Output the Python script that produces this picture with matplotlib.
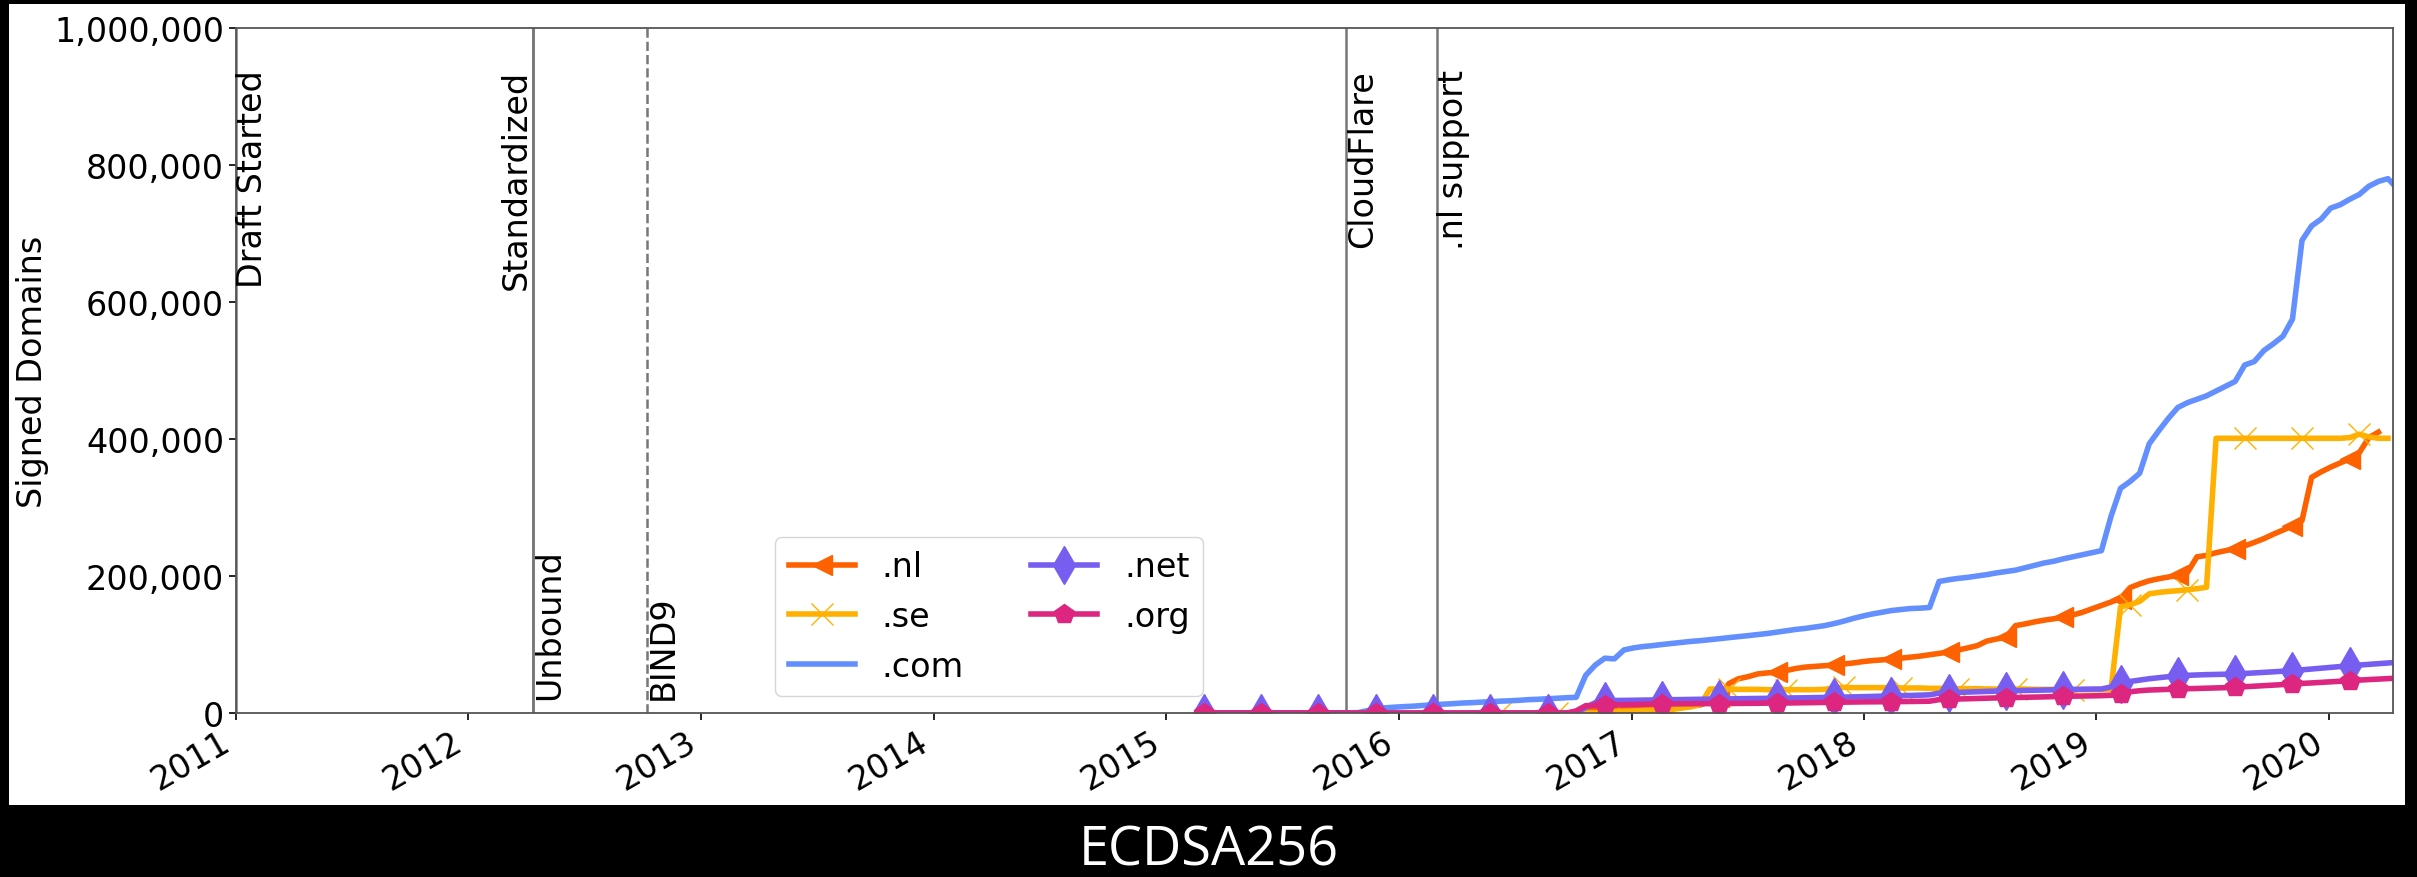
import matplotlib
matplotlib.use("Agg")
import matplotlib.pyplot as plt
import matplotlib.dates as mdates
import numpy as np
import pandas as pd
from matplotlib.ticker import FuncFormatter
from matplotlib.patches import Rectangle

nan = np.nan

# ---------------- data ----------------
# sample dates: every 15 days starting 2015-03-01 (126 samples)
dates = pd.date_range("2015-03-01", periods=126, freq="15D")

com_vals = [0] * 17 + [
    3000, 6000, 7500, 8500, 9300, 10000, 11000, 12000, 12800, 13500,
    14500, 15000, 15800, 16500, 17200, 17800, 18500, 19500, 20000, 20800,
    21500, 22300, 22900, 55000, 70000, 80000, 79000, 92000, 95000, 97000,
    98300, 100000, 101500, 103000, 104500, 105600, 107000, 108500, 110000, 111500,
    112900, 114500, 116000, 118000, 120000, 122000, 123500, 125500, 127500, 130500,
    134000, 138000, 141500, 144500, 147000, 149500, 151000, 152500, 153000, 154000,
    192000, 194500, 196500, 198000, 200000, 202000, 204500, 206500, 208500, 212000,
    215500, 219000, 221500, 225000, 228000, 231000, 234000, 237000, 287000, 328000,
    338000, 350000, 393000, 412000, 430000, 446000, 453000, 458000, 463000, 470000,
    477000, 484000, 508000, 513000, 529000, 539000, 550000, 575000, 690000, 711000,
    721000, 737000, 742000, 750000, 757000, 769000, 776000, 780000, 765000]

se_vals = [nan] * 28 + [0] * 14 + [
    1500, 2000, 2500, 3000, 3500, 4000, 4500, 5500, 7000, 9000,
    12000, 35000, 35000, 35000, 34500, 34500, 34500, 34000, 34000, 34000,
    34000, 34000, 34000, 34500, 36500, 37500, 37000, 37000, 37000, 37000,
    37000, 36500, 36500, 36500, 36000, 36000, 36000, 35500, 35500, 35500,
    35000, 35000, 35000, 35000, 35000, 34500, 34500, 34500, 34500, 34000,
    34000, 34000, 34000, 34000, 155000, 158000, 163000, 174000, 176000, 177500,
    178500, 180000, 181500, 183500, 401000, 401000, 401000, 401000, 401000, 401000,
    401000, 401000, 401000, 401000, 401000, 401000, 401000, 401000, 402000, 407000,
    403000, 401000, 401000] + [nan]

nl_vals = [nan] * 39 + [
    2000, 3000, 4000, 5000, 5500, 6000, 7000, 7500, 8300, 9000,
    9500, 10000, 11000, 11700, 17000, 23000, 43000, 50000, 53000, 57000,
    58500, 59400, 62000, 65000, 67000, 68000, 69000, 70100, 71500, 73000,
    75000, 76500, 77500, 78800, 80000, 81500, 83000, 85000, 87000, 89000,
    92000, 95000, 98300, 105000, 108000, 110500, 127500, 130000, 133000, 135500,
    137500, 139700, 143000, 147000, 152000, 157000, 162000, 167000, 183000, 188500,
    193000, 196000, 198500, 201000, 205000, 228000, 230000, 234000, 237000, 240000,
    244000, 249000, 254500, 261000, 267000, 273000, 281000, 344000, 352000, 359000,
    365000, 371000, 380000, 402000, 410000] + [nan, nan]

net_vals = [0] * 39 + [
    500, 8000, 15000, 18000, 18200, 18400, 18600, 18800, 19000, 19200,
    19400, 19600, 19800, 20000, 20200, 20400, 20600, 20800, 21000, 21200,
    21400, 21600, 21800, 22000, 22200, 22500, 22700, 22900, 23200, 23500,
    23800, 24200, 24600, 25000, 25300, 25600, 26000, 26500, 29000, 29500,
    30000, 30500, 31000, 31500, 32000, 32300, 32600, 32900, 33200, 33500,
    33800, 34100, 34400, 34700, 34900, 35000, 38000, 43000, 46000, 48000,
    50000, 51500, 53000, 54500, 55000, 55500, 56000, 56300, 56600, 56900,
    57700, 58500, 59300, 60100, 61000, 61800, 63000, 64200, 65400, 66600,
    67800, 69100, 70000, 71000, 72000, 73000, 74000]

org_vals = [0] * 39 + [
    3000, 10700, 11000, 11300, 11600, 12000, 12300, 12700, 13100, 13200,
    13300, 13400, 13500, 13600, 13700, 13800, 13900, 14000, 14100, 14200,
    14400, 14500, 14600, 14800, 15000, 15200, 15400, 15600, 15800, 16000,
    16200, 16300, 16400, 16500, 16700, 16800, 17000, 17200, 19500, 20000,
    20400, 20800, 21200, 21600, 22000, 22300, 22600, 22900, 23200, 23500,
    23900, 24300, 24500, 24800, 25000, 25300, 25800, 27000, 31000, 32500,
    33500, 34000, 34500, 35000, 35400, 35800, 36200, 36600, 37000, 37500,
    38300, 39100, 39900, 40700, 41500, 42300, 43100, 43900, 44700, 45500,
    46300, 47200, 48000, 48800, 49500, 50200, 51000]

for arr in (com_vals, se_vals, nl_vals, net_vals, org_vals):
    assert len(arr) == len(dates), len(arr)

series_labels = [".nl", ".se", ".com", ".net", ".org"]

event_labels = ["Draft Started", "Standardized", "Unbound", "BIND9", "CloudFlare", ".nl support"]
event_dates = ["2011-01-01", "2012-04-12", "2012-04-12", "2012-10-08", "2015-10-11", "2016-03-01"]

year_ticks = list(range(2011, 2021))
title = "ECDSA256"

# ---------------- figure ----------------
fig = plt.figure(figsize=(24.17, 8.78), dpi=100, facecolor="black")
fig.patches.append(Rectangle((0.0037, 0.082), 0.9913, 0.9123,
                             transform=fig.transFigure, facecolor="white",
                             edgecolor="none", zorder=-10))
ax = fig.add_axes([0.0976, 0.1868, 0.8925, 0.7802])
ax.set_zorder(1)

styles = {
    ".nl": dict(color="#FE6100", marker="<", markersize=14, markevery=6),
    ".se": dict(color="#FFB000", marker="x", markersize=16, markevery=(1, 6)),
    ".com": dict(color="#648FFF"),
    ".net": dict(color="#785EF0", marker="d", markersize=19, markevery=6),
    ".org": dict(color="#DC267F", marker="p", markersize=15, markevery=6),
}
values = {".nl": nl_vals, ".se": se_vals, ".com": com_vals,
          ".net": net_vals, ".org": org_vals}

for lab in series_labels:
    ax.plot(dates, np.array(values[lab], dtype=float), lw=4, label=lab, **styles[lab])

# events
ev_style = {
    "Draft Started": dict(ls="-", y=940000, va="top", ha="left"),
    "Standardized": dict(ls="-", y=940000, va="top", ha="right"),
    "Unbound": dict(ls="-", y=20000, va="bottom", ha="left"),
    "BIND9": dict(ls="--", y=20000, va="bottom", ha="left"),
    "CloudFlare": dict(ls="-", y=940000, va="top", ha="left"),
    ".nl support": dict(ls="-", y=940000, va="top", ha="left"),
}
for lab, d in zip(event_labels, event_dates):
    st = ev_style[lab]
    dt = pd.Timestamp(d)
    ax.axvline(dt, color="#777777", lw=1.8, ls=st["ls"], zorder=1)
    ax.text(dt, st["y"], lab, rotation=90, ha=st["ha"], va=st["va"], fontsize=24)

ax.set_xlim(pd.Timestamp("2011-01-01"), pd.Timestamp("2020-04-11"))
ax.set_ylim(0, 1000000)
ax.set_xticks([pd.Timestamp(f"{y}-01-01") for y in year_ticks])
ax.xaxis.set_major_formatter(mdates.DateFormatter("%Y"))
ax.yaxis.set_major_formatter(FuncFormatter(lambda v, p: f"{int(v):,}"))
ax.tick_params(axis="both", labelsize=24, length=5, width=1.2)
for t in ax.get_xticklabels():
    t.set_rotation(30)
    t.set_ha("right")
for s in ax.spines.values():
    s.set_color("#555555")
    s.set_linewidth(1.3)
ax.set_ylabel("Signed Domains", fontsize=24)

ax.legend(ncol=2, fontsize=24, loc="lower left", bbox_to_anchor=(0.25, 0.025),
          borderaxespad=0)

fig.text(0.5, 0.014, title, color="white", fontsize=39, ha="center",
         va="baseline", family=["Open Sans", "DejaVu Sans"])

fig.savefig("out.png", dpi=100, facecolor="black")
